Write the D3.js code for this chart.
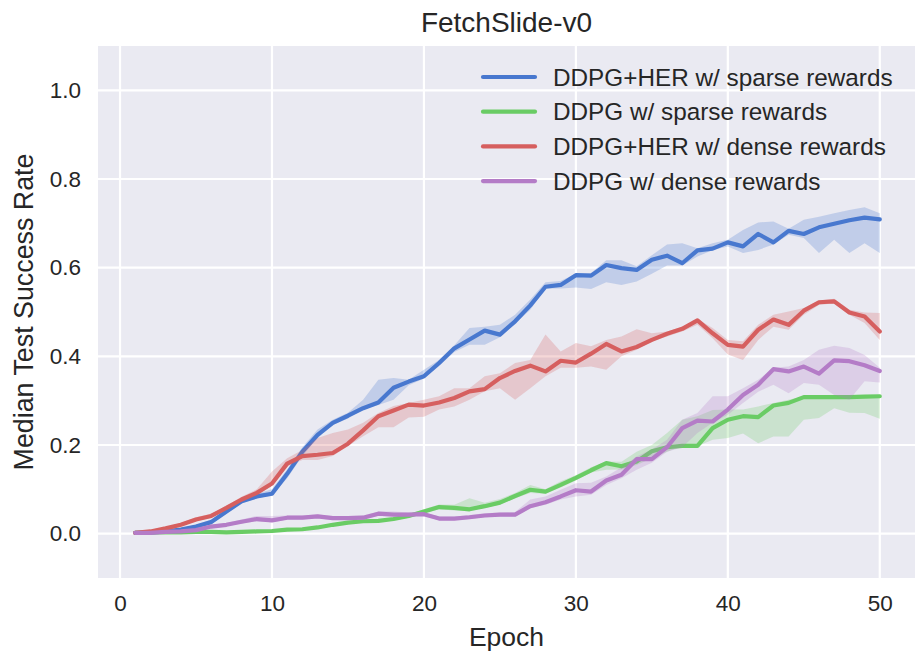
<!DOCTYPE html>
<html>
<head>
<meta charset="utf-8">
<script src="https://cdn.jsdelivr.net/npm/d3@7"></script>
<style>
  body { margin: 0; background: #fff; }
  text { font-family: "Liberation Sans", Arial, sans-serif; fill: #262626; }
</style>
</head>
<body>
<div id="chart"></div>
<script>
// Data (median + shaded band per epoch)
const epochs = [1,2,3,4,5,6,7,8,9,10,11,12,13,14,15,16,17,18,19,20,21,22,23,24,25,
  26,27,28,29,30,31,32,33,34,35,36,37,38,39,40,41,42,43,44,45,46,47,48,49,50];

const herSparse = [0.002,0.002,0.005,0.009,0.016,0.026,0.050,0.073,0.084,0.090,
  0.135,0.185,0.223,0.250,0.266,0.283,0.296,0.329,0.343,0.355,
  0.385,0.418,0.438,0.458,0.449,0.479,0.515,0.557,0.561,0.583,
  0.582,0.606,0.599,0.595,0.618,0.627,0.610,0.639,0.643,0.657,
  0.648,0.676,0.657,0.683,0.676,0.691,0.699,0.707,0.713,0.709];
const herSparseHi = [0.003,0.004,0.008,0.013,0.020,0.032,0.056,0.078,0.090,0.100,
  0.145,0.195,0.235,0.257,0.273,0.302,0.347,0.351,0.347,0.370,
  0.392,0.425,0.464,0.467,0.471,0.494,0.528,0.567,0.570,0.587,
  0.588,0.617,0.617,0.603,0.628,0.652,0.655,0.644,0.655,0.663,
  0.685,0.702,0.704,0.688,0.708,0.715,0.723,0.730,0.736,0.723];
const herSparseLo = [0.001,0.001,0.003,0.006,0.012,0.022,0.045,0.068,0.080,0.086,
  0.125,0.175,0.215,0.245,0.260,0.280,0.290,0.302,0.335,0.350,
  0.378,0.410,0.426,0.426,0.443,0.474,0.505,0.553,0.553,0.555,
  0.552,0.567,0.561,0.569,0.586,0.605,0.605,0.625,0.640,0.648,
  0.633,0.640,0.652,0.674,0.667,0.633,0.663,0.633,0.655,0.633];

const ddpgSparse = [0.002,0.003,0.003,0.003,0.004,0.004,0.003,0.004,0.005,0.006,
  0.009,0.010,0.014,0.020,0.025,0.028,0.029,0.033,0.040,0.050,
  0.060,0.058,0.055,0.062,0.070,0.085,0.099,0.095,0.110,0.126,
  0.143,0.159,0.152,0.163,0.186,0.195,0.198,0.198,0.238,0.257,
  0.265,0.263,0.289,0.295,0.308,0.308,0.308,0.308,0.309,0.310];
const ddpgSparseHi = [0.003,0.004,0.005,0.005,0.006,0.006,0.005,0.006,0.007,0.008,
  0.011,0.012,0.016,0.023,0.028,0.031,0.032,0.036,0.044,0.055,
  0.066,0.065,0.080,0.070,0.078,0.092,0.110,0.100,0.118,0.132,
  0.150,0.163,0.162,0.185,0.200,0.227,0.257,0.265,0.279,0.280,
  0.280,0.287,0.295,0.302,0.310,0.310,0.310,0.310,0.310,0.311];
const ddpgSparseLo = [0.001,0.002,0.002,0.002,0.002,0.002,0.002,0.002,0.003,0.004,
  0.007,0.008,0.012,0.017,0.022,0.025,0.026,0.030,0.036,0.046,
  0.055,0.052,0.052,0.058,0.066,0.080,0.092,0.090,0.104,0.120,
  0.138,0.144,0.145,0.155,0.170,0.185,0.197,0.197,0.212,0.216,
  0.226,0.204,0.219,0.219,0.257,0.261,0.283,0.273,0.272,0.259];

const herDense = [0.002,0.005,0.012,0.020,0.032,0.040,0.058,0.077,0.092,0.113,
  0.158,0.175,0.178,0.182,0.203,0.233,0.265,0.278,0.291,0.289,
  0.296,0.306,0.321,0.326,0.351,0.367,0.379,0.366,0.390,0.386,
  0.406,0.428,0.411,0.421,0.437,0.451,0.462,0.481,0.452,0.426,
  0.422,0.460,0.483,0.471,0.503,0.522,0.524,0.499,0.490,0.456];
const herDenseHi = [0.003,0.007,0.015,0.024,0.037,0.045,0.063,0.083,0.100,0.140,
  0.170,0.189,0.216,0.227,0.235,0.250,0.272,0.288,0.295,0.302,
  0.310,0.328,0.328,0.355,0.362,0.385,0.392,0.449,0.411,0.430,
  0.423,0.437,0.445,0.461,0.452,0.456,0.467,0.484,0.464,0.437,
  0.434,0.471,0.494,0.501,0.509,0.526,0.530,0.505,0.499,0.498];
const herDenseLo = [0.001,0.003,0.009,0.017,0.028,0.036,0.054,0.072,0.088,0.108,
  0.152,0.166,0.166,0.175,0.198,0.220,0.240,0.240,0.262,0.264,
  0.280,0.287,0.302,0.321,0.328,0.302,0.328,0.355,0.374,0.374,
  0.377,0.370,0.400,0.415,0.434,0.445,0.456,0.471,0.441,0.404,
  0.392,0.437,0.467,0.460,0.494,0.516,0.520,0.494,0.475,0.437];

const ddpgDense = [0.002,0.002,0.004,0.005,0.008,0.016,0.020,0.027,0.033,0.030,
  0.036,0.036,0.039,0.035,0.035,0.036,0.045,0.043,0.043,0.044,
  0.034,0.034,0.037,0.041,0.043,0.043,0.062,0.071,0.084,0.098,
  0.095,0.120,0.133,0.168,0.168,0.195,0.238,0.255,0.253,0.280,
  0.313,0.336,0.371,0.366,0.377,0.361,0.391,0.389,0.380,0.367];
const ddpgDenseHi = [0.003,0.003,0.006,0.008,0.011,0.020,0.024,0.032,0.040,0.040,
  0.041,0.041,0.043,0.040,0.040,0.041,0.050,0.050,0.048,0.048,
  0.039,0.039,0.042,0.046,0.048,0.049,0.077,0.084,0.099,0.114,
  0.115,0.129,0.150,0.174,0.190,0.212,0.257,0.272,0.310,0.310,
  0.328,0.347,0.374,0.377,0.392,0.415,0.424,0.419,0.403,0.374];
const ddpgDenseLo = [0.001,0.001,0.002,0.003,0.005,0.013,0.017,0.023,0.028,0.026,
  0.032,0.032,0.035,0.031,0.031,0.032,0.040,0.039,0.039,0.040,
  0.030,0.030,0.033,0.037,0.039,0.039,0.058,0.065,0.077,0.084,
  0.088,0.110,0.125,0.144,0.160,0.185,0.195,0.227,0.250,0.268,
  0.295,0.320,0.336,0.317,0.340,0.336,0.313,0.302,0.344,0.341];

const seriesNames = ["DDPG+HER w/ sparse rewards", "DDPG w/ sparse rewards",
  "DDPG+HER w/ dense rewards", "DDPG w/ dense rewards"];
const seriesColors = ["#4878CF", "#6ACC65", "#D65F5F", "#B47CC7"];
const xTicks = [0, 10, 20, 30, 40, 50];
const yTicks = [0.0, 0.2, 0.4, 0.6, 0.8, 1.0];

const series = [
  { mid: herSparse, hi: herSparseHi, lo: herSparseLo },
  { mid: ddpgSparse, hi: ddpgSparseHi, lo: ddpgSparseLo },
  { mid: herDense, hi: herDenseHi, lo: herDenseLo },
  { mid: ddpgDense, hi: ddpgDenseHi, lo: ddpgDenseLo }
];

const width = 915, height = 656;
const margin = { top: 46, right: -2, bottom: 78, left: 98 };

const svg = d3.select("#chart").append("svg")
  .attr("width", width)
  .attr("height", height);

const x = d3.scaleLinear()
  .domain([-1.45, 52.45])
  .range([margin.left, width - margin.right]);
const y = d3.scaleLinear()
  .domain([-0.1, 1.1])
  .range([height - margin.bottom, margin.top]);

// plot background
svg.append("rect")
  .attr("x", margin.left).attr("y", margin.top)
  .attr("width", width - margin.left - margin.right)
  .attr("height", height - margin.top - margin.bottom)
  .attr("fill", "#EAEAF2");

svg.append("clipPath").attr("id", "clip")
  .append("rect")
  .attr("x", margin.left).attr("y", margin.top)
  .attr("width", width - margin.left - margin.right)
  .attr("height", height - margin.top - margin.bottom);

// grid
const grid = svg.append("g").attr("clip-path", "url(#clip)");
grid.selectAll(".gx").data(xTicks).enter().append("line")
  .attr("x1", d => x(d)).attr("x2", d => x(d))
  .attr("y1", margin.top).attr("y2", height - margin.bottom)
  .attr("stroke", "#fff").attr("stroke-width", 2.2);
grid.selectAll(".gy").data(yTicks).enter().append("line")
  .attr("y1", d => y(d)).attr("y2", d => y(d))
  .attr("x1", margin.left).attr("x2", width - margin.right)
  .attr("stroke", "#fff").attr("stroke-width", 2.2);

// axes (labels only, seaborn darkgrid has no spines / ticks)
const xAxis = svg.append("g")
  .attr("transform", `translate(0,${height - margin.bottom})`)
  .call(d3.axisBottom(x).tickValues(xTicks).tickSize(0).tickPadding(17).tickFormat(d3.format("d")));
const yAxis = svg.append("g")
  .attr("transform", `translate(${margin.left},0)`)
  .call(d3.axisLeft(y).tickValues(yTicks).tickSize(0).tickPadding(17).tickFormat(d3.format(".1f")));
[xAxis, yAxis].forEach(a => {
  a.select(".domain").remove();
  a.selectAll("text").attr("font-size", 22.5).attr("fill", "#262626")
    .attr("font-family", "'Liberation Sans', Arial, sans-serif");
});

// bands and lines
const plot = svg.append("g").attr("clip-path", "url(#clip)");
const area = d3.area()
  .x((d, i) => x(epochs[i]))
  .y0(d => y(d[0]))
  .y1(d => y(d[1]));
const line = d3.line()
  .x((d, i) => x(epochs[i]))
  .y(d => y(d));

series.forEach((s, k) => {
  const band = s.lo.map((v, i) => [v, s.hi[i]]);
  plot.append("path")
    .datum(band)
    .attr("d", area)
    .attr("fill", seriesColors[k])
    .attr("fill-opacity", 0.25);
  plot.append("path")
    .datum(s.mid)
    .attr("d", line)
    .attr("fill", "none")
    .attr("stroke", seriesColors[k])
    .attr("stroke-width", 4.2)
    .attr("stroke-linejoin", "round")
    .attr("stroke-linecap", "round");
});

// legend
const legend = svg.append("g").attr("transform", "translate(483,77)");
seriesNames.forEach((name, i) => {
  const row = legend.append("g").attr("transform", `translate(0,${i * 34.7})`);
  row.append("line")
    .attr("x1", 0).attr("x2", 52)
    .attr("stroke", seriesColors[i])
    .attr("stroke-width", 4.2)
    .attr("stroke-linecap", "round");
  row.append("text")
    .attr("x", 70).attr("dy", "0.36em")
    .attr("font-size", 24.3)
    .text(name);
});

// title and axis labels
svg.append("text")
  .attr("x", (margin.left + 915) / 2).attr("y", 32)
  .attr("text-anchor", "middle")
  .attr("font-size", 28)
  .text("FetchSlide-v0");

svg.append("text")
  .attr("x", (margin.left + 915) / 2).attr("y", 646)
  .attr("text-anchor", "middle")
  .attr("font-size", 26.5)
  .text("Epoch");

svg.append("text")
  .attr("transform", `translate(33,${(margin.top + height - margin.bottom) / 2}) rotate(-90)`)
  .attr("text-anchor", "middle")
  .attr("font-size", 26.8)
  .text("Median Test Success Rate");
</script>
</body>
</html>
